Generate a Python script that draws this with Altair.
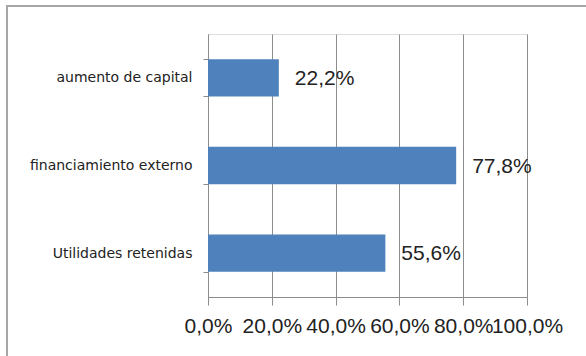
import altair as alt
import pandas as pd

categories = ["aumento de capital", "financiamiento externo", "Utilidades retenidas"]
values = [0.222, 0.778, 0.556]
x_ticks = [0.0, 0.2, 0.4, 0.6, 0.8, 1.0]

df = pd.DataFrame({"cat": categories, "v": values})

GRID = "#8c8c8c"

base = alt.Chart(df)

bars = base.mark_bar(color="#4F81BD").encode(
    x=alt.X("v:Q", scale=alt.Scale(domain=[0, 1], nice=False),
            axis=alt.Axis(values=x_ticks, title=None, grid=True, gridColor=GRID,
                          gridWidth=1, domainColor=GRID, tickColor=GRID, tickSize=8,
                          labelFont="Liberation Sans", labelFontSize=21, labelColor="#222222",
                          labelPadding=10, labelOverlap=False, labelFlush=False,
                          labelExpr="replace(format(datum.value, '.1%'), '.', ',')")),
    y=alt.Y("cat:N", sort=categories,
            scale=alt.Scale(paddingInner=0.575, paddingOuter=0.2875),
            axis=alt.Axis(title=None, domainColor=GRID, tickColor=GRID, tickSize=5,
                          tickBand="extent", labelFont="DejaVu Sans", labelFontSize=14,
                          labelColor="#222222", labelPadding=11, labelLimit=300)),
)

labels = base.mark_text(align="left", baseline="middle", dx=16, dy=1,
                        font="Liberation Sans", fontSize=21, color="#222222").transform_calculate(
    lab="replace(format(datum.v, '.1%'), '.', ',')"
).encode(
    x="v:Q",
    y=alt.Y("cat:N", sort=categories),
    text="lab:N",
)

frame_df = pd.DataFrame({"a": [0]})
frame_top = alt.Chart(frame_df).mark_rule(color="#a6a6a6", strokeWidth=2).encode(
    x=alt.value(-201), x2=alt.value(400), y=alt.value(-28)
)
frame_left = alt.Chart(frame_df).mark_rule(color="#a6a6a6", strokeWidth=2).encode(
    x=alt.value(-201), y=alt.value(-29), y2=alt.value(340)
)

chart = alt.layer(bars, labels, frame_top, frame_left).properties(
    width=319, height=263,
    autosize=alt.AutoSizeParams(type="none"),
    padding={"left": 208, "top": 34, "right": 59, "bottom": 59},
).configure_view(stroke=None).configure(background="white")

chart.save("out.html", embed_options={"renderer": "svg", "actions": False})
